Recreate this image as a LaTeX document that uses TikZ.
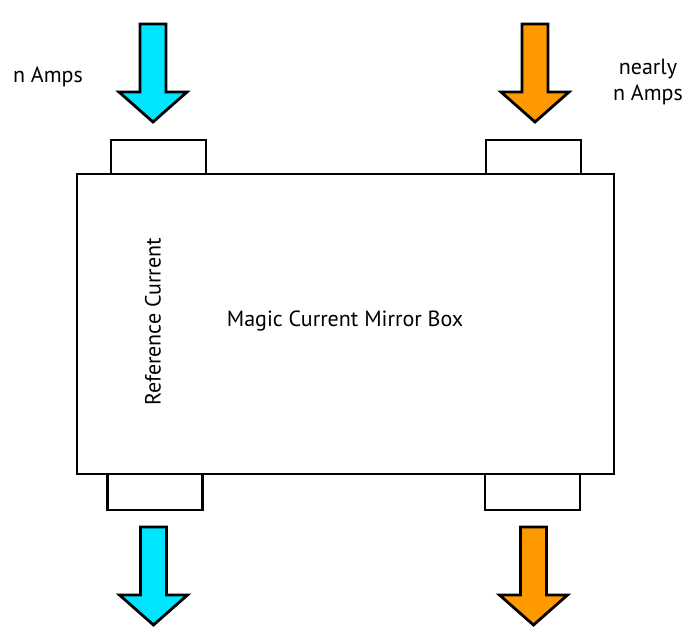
\documentclass[tikz,border=0pt]{standalone}
\usepackage{fontspec}
\setmainfont{PT Sans}
\definecolor{arrcyan}{HTML}{00E5FF}
\definecolor{arrorange}{HTML}{FF9900}
\begin{document}
\begin{tikzpicture}[x=1pt,y=-1pt,
  outline/.style={draw=black,line width=2.8pt},
  tabbox/.style={outline,fill=white,minimum width=95pt,minimum height=34pt,inner sep=0pt},
  lbl/.style={font=\fontsize{22}{26}\selectfont,inner sep=0pt,align=center},
  bigarrow/.style={outline,line join=miter}]
\useasboundingbox (0,0) rectangle (697,642);
% main box
\node[outline,minimum width=537pt,minimum height=300pt,inner sep=0pt] (box) at (345.5,324) {};
% tabs
\node[tabbox] (tl) at (158.5,157) {};
\node[tabbox] (tr) at (533.5,157) {};
\node[tabbox,minimum height=36pt] (bl) at (155,492) {};
\node[tabbox,minimum height=36pt] (br) at (532.5,492) {};
% arrows (shape: shaft 26 wide, head 68 wide)
\newcommand{\downarrowshape}[4]{% x, top y, fill, name
  \draw[bigarrow,fill=#3] (#1-13,#2) -- (#1+13,#2) -- (#1+13,#2+68) -- (#1+34,#2+68)
     -- (#1,#2+98) -- (#1-34,#2+68) -- (#1-13,#2+68) -- cycle;
  \coordinate (#4) at (#1,#2+98);}
\downarrowshape{153}{24}{arrcyan}{inL}
\downarrowshape{535}{24}{arrorange}{inR}
\downarrowshape{153.5}{527}{arrcyan}{outL}
\downarrowshape{533.5}{527}{arrorange}{outR}
% labels
\node[lbl] (nA) at (48,77) {n Amps};
\node[lbl] (nnA) at (648,82) {nearly\\n Amps};
\node[lbl] (mcm) at (345,321) {Magic Current Mirror Box};
\node[lbl,rotate=90] (ref) at (153,322) {Reference Current};
\end{tikzpicture}
\end{document}
